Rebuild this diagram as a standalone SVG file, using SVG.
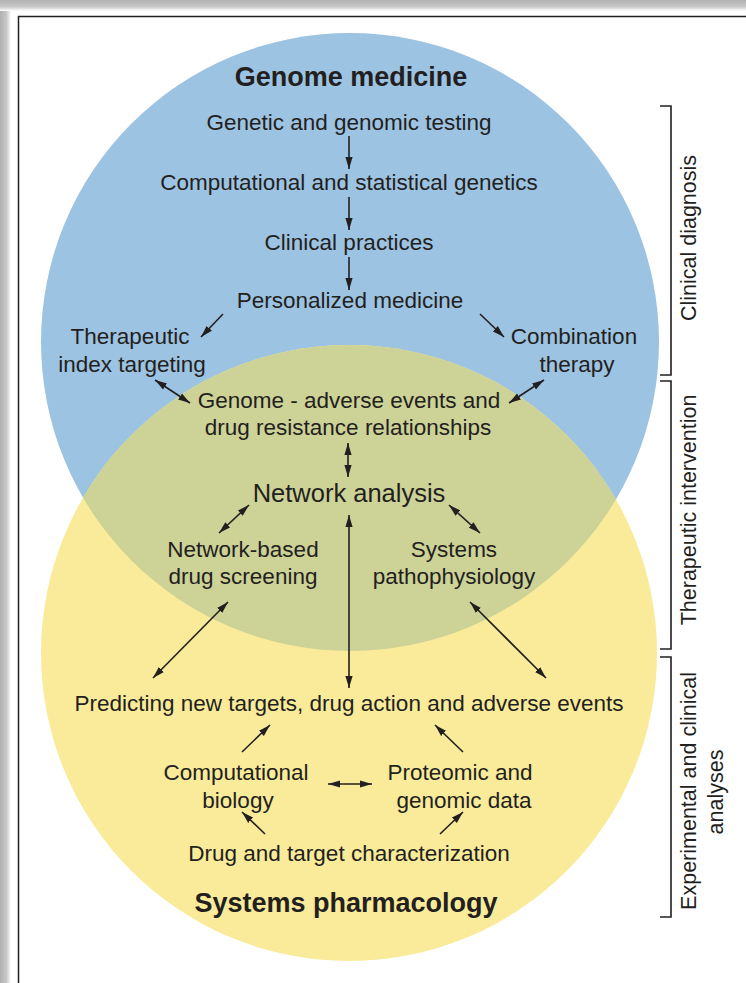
<svg xmlns="http://www.w3.org/2000/svg" width="746" height="983" viewBox="0 0 746 983">
  <style>
    .t { font-family: "Liberation Sans", Arial, Helvetica, sans-serif; font-size: 22.5px; fill: #231f20; text-anchor: middle; }
    .title { font-weight: bold; font-size: 27px; }
    .big { font-size: 25.5px; }
    .side { font-size: 21.5px; }
    .conn line { stroke: #231f20; stroke-width: 1.6; fill: none; }
    .bracket { fill: none; stroke: #231f20; stroke-width: 1.6; }
  </style>
  <defs>
    <marker id="head" viewBox="0 0 12 8" refX="12" refY="4" markerWidth="12" markerHeight="8" markerUnits="userSpaceOnUse" orient="auto-start-reverse">
      <path d="M0,0.4 L12,4 L0,7.6 z" fill="#231f20"/>
    </marker>
    <clipPath id="blueDisc">
      <circle cx="350" cy="342" r="309"/>
    </clipPath>
    <linearGradient id="shadeL" x1="0" y1="0" x2="1" y2="0">
      <stop offset="0" stop-color="#b0b0b0"/>
      <stop offset="0.6" stop-color="#c8c8c8"/>
      <stop offset="1" stop-color="#ffffff"/>
    </linearGradient>
    <linearGradient id="shadeT" x1="0" y1="0" x2="0" y2="1">
      <stop offset="0" stop-color="#b0b0b0"/>
      <stop offset="0.6" stop-color="#c8c8c8"/>
      <stop offset="1" stop-color="#ffffff"/>
    </linearGradient>
  </defs>

  <!-- page and frame -->
  <rect x="0" y="0" width="746" height="983" fill="#ffffff"/>
  <rect x="0" y="0" width="11" height="983" fill="url(#shadeL)"/>
  <rect x="0" y="0" width="746" height="11" fill="url(#shadeT)"/>
  <path d="M18.5,983 V16.5 H746" fill="none" stroke="#231f20" stroke-width="1.5"/>

  <!-- the two overlapping fields -->
  <g id="fields">
    <circle cx="350" cy="342" r="309" fill="#9dc3e2"/>
    <circle cx="349" cy="653" r="308" fill="#f9eb99"/>
    <circle cx="349" cy="653" r="308" fill="#cdd296" clip-path="url(#blueDisc)"/>
  </g>

  <!-- stage brackets on the right -->
  <g id="brackets">
    <path class="bracket" d="M660,106 H671 V375 H660"/>
    <path class="bracket" d="M660,381 H671 V649 H660"/>
    <path class="bracket" d="M660,657 H671 V917 H660"/>
    <text class="t side" transform="translate(696,238) rotate(-90)">Clinical diagnosis</text>
    <text class="t side" transform="translate(696,510) rotate(-90)">Therapeutic intervention</text>
    <text class="t side" transform="translate(696,791) rotate(-90)">Experimental and clinical</text>
    <text class="t side" transform="translate(723,792) rotate(-90)">analyses</text>
  </g>

  <!-- connectors -->
  <g id="connectors" class="conn">
    <line x1="349" y1="136" x2="349" y2="169" marker-end="url(#head)"/>
    <line x1="349" y1="197" x2="349" y2="230" marker-end="url(#head)"/>
    <line x1="349" y1="257" x2="349" y2="290" marker-end="url(#head)"/>
    <line x1="223" y1="314" x2="201" y2="337" marker-end="url(#head)"/>
    <line x1="480" y1="314" x2="504" y2="337" marker-end="url(#head)"/>
    <line x1="155" y1="380" x2="190" y2="403" marker-start="url(#head)" marker-end="url(#head)"/>
    <line x1="544" y1="380" x2="509" y2="403" marker-start="url(#head)" marker-end="url(#head)"/>
    <line x1="348" y1="443" x2="348" y2="477" marker-start="url(#head)" marker-end="url(#head)"/>
    <line x1="249" y1="505" x2="219" y2="533" marker-start="url(#head)" marker-end="url(#head)"/>
    <line x1="449" y1="505" x2="480" y2="533" marker-start="url(#head)" marker-end="url(#head)"/>
    <line x1="349" y1="515" x2="349" y2="688" marker-start="url(#head)" marker-end="url(#head)"/>
    <line x1="228" y1="602" x2="153" y2="678" marker-start="url(#head)" marker-end="url(#head)"/>
    <line x1="470" y1="602" x2="546" y2="678" marker-start="url(#head)" marker-end="url(#head)"/>
    <line x1="242" y1="752" x2="270" y2="725" marker-end="url(#head)"/>
    <line x1="463" y1="752" x2="435" y2="725" marker-end="url(#head)"/>
    <line x1="328" y1="784" x2="372" y2="784" marker-start="url(#head)" marker-end="url(#head)"/>
    <line x1="265" y1="834" x2="242" y2="812" marker-end="url(#head)"/>
    <line x1="440" y1="834" x2="463" y2="812" marker-end="url(#head)"/>
  </g>

  <!-- nodes -->
  <g id="genome-medicine"><text class="t title" x="351" y="86">Genome medicine</text></g>
  <g id="genetic-testing"><text class="t" x="349" y="130">Genetic and genomic testing</text></g>
  <g id="computational-genetics"><text class="t" x="349" y="190">Computational and statistical genetics</text></g>
  <g id="clinical-practices"><text class="t" x="349" y="250">Clinical practices</text></g>
  <g id="personalized-medicine"><text class="t" x="350" y="308">Personalized medicine</text></g>
  <g id="therapeutic-index">
    <text class="t" x="130" y="344">Therapeutic</text>
    <text class="t" x="132" y="372">index targeting</text>
  </g>
  <g id="combination-therapy">
    <text class="t" x="574" y="344">Combination</text>
    <text class="t" x="577" y="372">therapy</text>
  </g>
  <g id="genome-adverse">
    <text class="t" x="349" y="408">Genome - adverse events and</text>
    <text class="t" x="348" y="435">drug resistance relationships</text>
  </g>
  <g id="network-analysis"><text class="t big" x="349" y="502">Network analysis</text></g>
  <g id="network-screening">
    <text class="t" x="243" y="557">Network-based</text>
    <text class="t" x="243" y="584">drug screening</text>
  </g>
  <g id="systems-pathophysiology">
    <text class="t" x="454" y="557">Systems</text>
    <text class="t" x="454" y="584">pathophysiology</text>
  </g>
  <g id="predicting"><text class="t" x="349" y="711">Predicting new targets, drug action and adverse events</text></g>
  <g id="computational-biology">
    <text class="t" x="236" y="780">Computational</text>
    <text class="t" x="238" y="808">biology</text>
  </g>
  <g id="proteomic-data">
    <text class="t" x="460" y="780">Proteomic and</text>
    <text class="t" x="464" y="808">genomic data</text>
  </g>
  <g id="drug-target"><text class="t" x="349" y="861">Drug and target characterization</text></g>
  <g id="systems-pharmacology"><text class="t title" x="346" y="912">Systems pharmacology</text></g>
</svg>
